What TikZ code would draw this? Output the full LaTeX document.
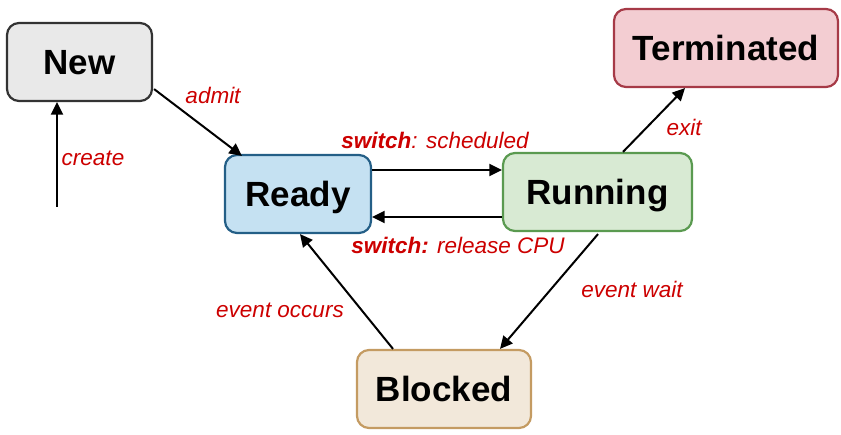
\documentclass[tikz,border=0pt]{standalone}
\usepackage{fontspec}
\setmainfont{Liberation Sans}
\usetikzlibrary{arrows.meta,calc}
\definecolor{newfill}{HTML}{E9E9E9}
\definecolor{newdraw}{HTML}{333333}
\definecolor{readyfill}{HTML}{C5E1F2}
\definecolor{readydraw}{HTML}{245F87}
\definecolor{runfill}{HTML}{D8EAD3}
\definecolor{rundraw}{HTML}{5A9A50}
\definecolor{termfill}{HTML}{F3CDD2}
\definecolor{termdraw}{HTML}{A63A47}
\definecolor{blockfill}{HTML}{F2E8DA}
\definecolor{blockdraw}{HTML}{C49B62}
\definecolor{lblred}{HTML}{CC0000}
\tikzset{
  state/.style={rectangle, rounded corners=12pt, line width=2.2pt, inner sep=0pt,
    minimum height=78pt, text height=25pt, text depth=0pt,
    font=\fontsize{35}{40}\selectfont\bfseries},
  lbl/.style={text=lblred, inner sep=0pt, text height=16pt, text depth=0pt,
    font=\fontsize{22.5}{26}\selectfont\itshape},
  arr/.style={line width=2pt, -{Triangle[length=12.5pt,width=12pt]}}
}
\begin{document}
\begin{tikzpicture}[x=1pt,y=-1pt]
\useasboundingbox (0,0) rectangle (841,435);
\node[state, fill=newfill, draw=newdraw, minimum width=145pt] (new) at (79.5,62) {New};
\node[state, fill=readyfill, draw=readydraw, minimum width=146pt] (ready) at (298,194) {Ready};
\node[state, fill=runfill, draw=rundraw, minimum width=189pt] (running) at (597.5,192) {Running};
\node[state, fill=termfill, draw=termdraw, minimum width=224pt] (term) at (726,48) {Terminated};
\node[state, fill=blockfill, draw=blockdraw, minimum width=174pt] (blocked) at (444,389) {Blocked};

\coordinate (c0) at (57,207);
\draw[arr] (c0) -- (c0 |- new.south);
\draw[arr] ($(new.south east)+(1,-13)$) -- ($(ready.north west)+(18,2)$);
\coordinate (s1) at ($(ready.east)+(0,-24)$);
\draw[arr] (s1) -- (s1 -| running.west);
\coordinate (r1) at ($(running.west)+(0,25)$);
\draw[arr] (r1) -- (r1 -| ready.east);
\draw[arr] ($(running.north)+(25.5,0)$) -- ($(term.south)+(-41,0)$);
\draw[arr] ($(running.south)+(0.5,2)$) -- ($(blocked.north)+(56,0)$);
\draw[arr] ($(blocked.north)+(-51,0)$) -- ($(ready.south)+(2,0)$);

\node[lbl] (lcreate) at (93,158) {create};
\node[lbl] (ladmit) at (213,96) {admit};
\node[lbl] (lsched) at (435,141) {\textbf{switch}: scheduled};
\node[lbl] (lrel) at (458,246) {\textbf{switch:} release CPU};
\node[lbl] (lexit) at (684,128) {exit};
\node[lbl] (lwait) at (632,290) {event wait};
\node[lbl] (loccur) at (280,310) {event occurs};
\end{tikzpicture}
\end{document}
